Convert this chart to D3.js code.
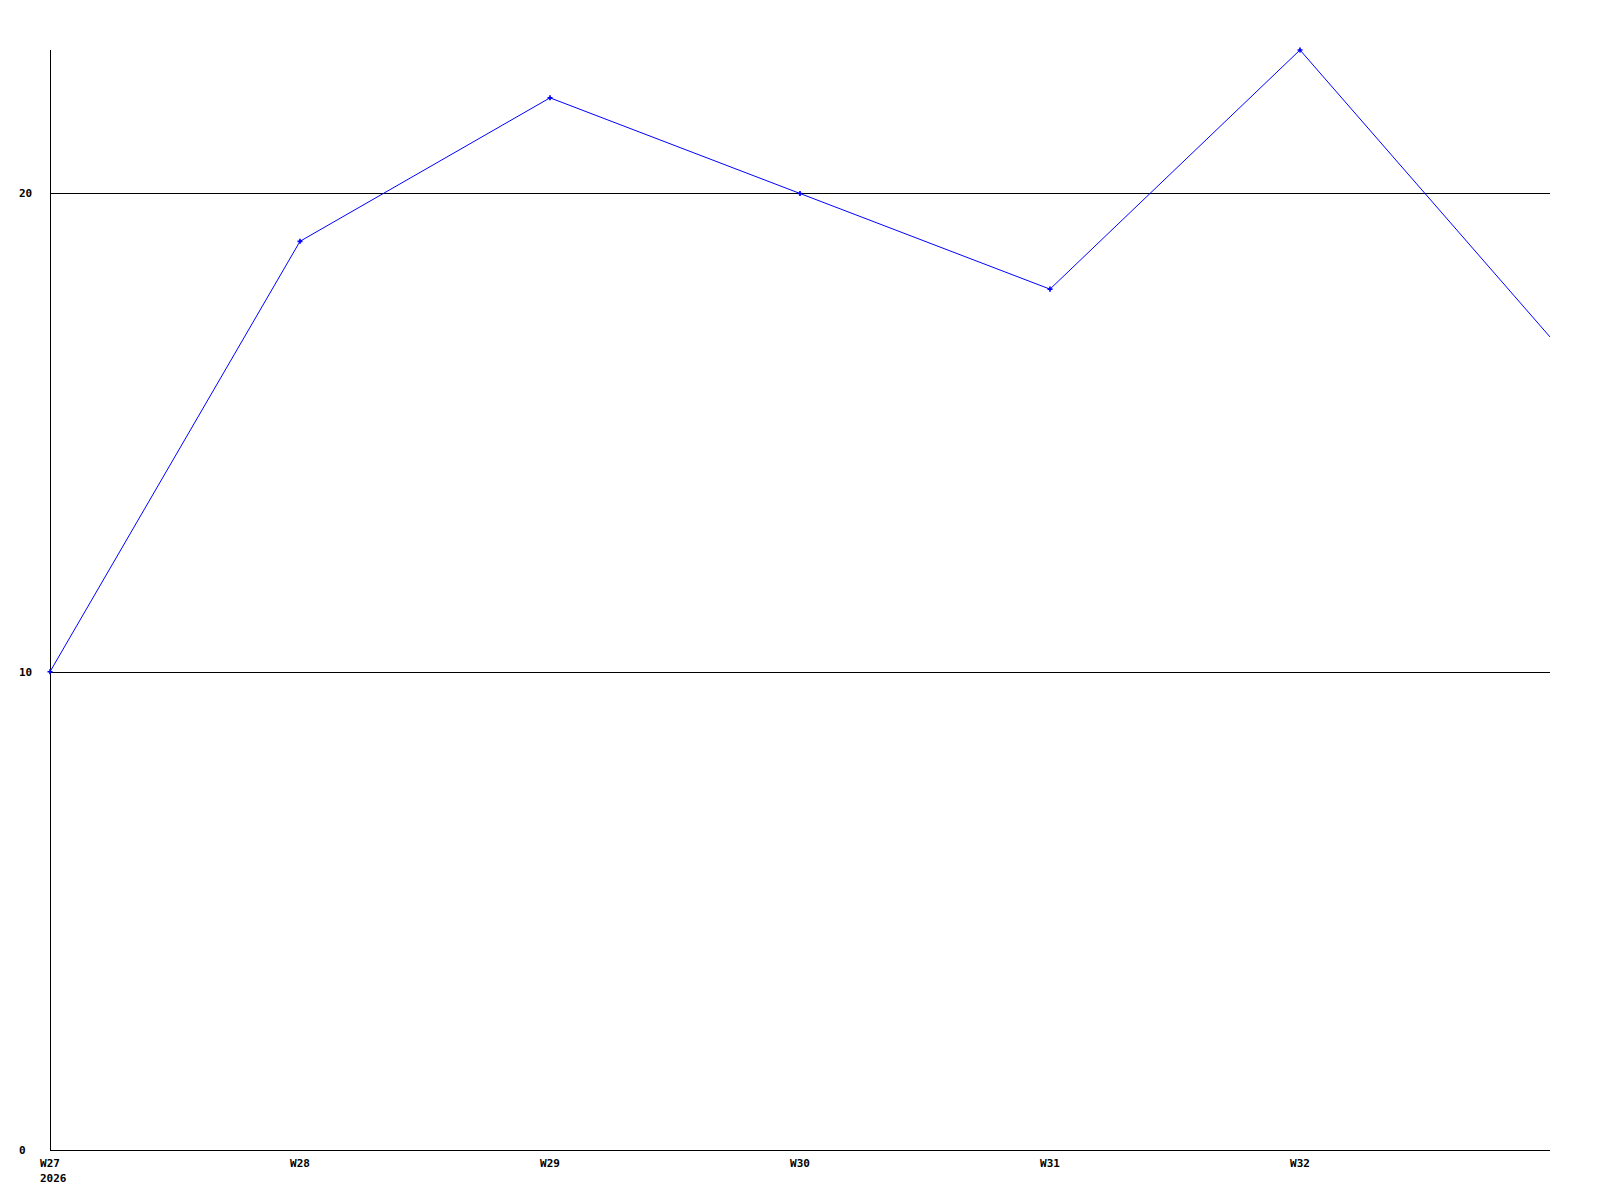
<!DOCTYPE html>
<html>
<head>
<meta charset="utf-8">
<script src="https://cdn.jsdelivr.net/npm/d3@7"></script>
<style>
  html, body { margin: 0; padding: 0; background: #fff; }
  text { font-family: "DejaVu Sans Mono", "Liberation Mono", monospace; font-weight: bold; font-size: 11px; fill: #000; }
</style>
</head>
<body>
<svg id="chart" width="1600" height="1200"></svg>
<script>
const weeks = ["W27", "W28", "W29", "W30", "W31", "W32", "W33"];
const values = [10, 19, 22, 20, 18, 23, 17];
const tickWeeks = ["W27", "W28", "W29", "W30", "W31", "W32"];
const yearLabel = "2026";
const yTicks = [0, 10, 20];
const gridValues = [10, 20];

const margin = { left: 50, right: 50, top: 50, bottom: 50 };
const W = 1600, H = 1200;
const svg = d3.select("#chart");

const x = d3.scalePoint().domain(weeks).range([margin.left, W - margin.right]);
const y = d3.scaleLinear().domain([0, 23]).range([H - margin.bottom, margin.top]);

svg.append("rect").attr("width", W).attr("height", H).attr("fill", "#fff");

// grid lines
svg.selectAll("line.grid").data(gridValues).enter().append("line")
  .attr("class", "grid")
  .attr("x1", x.range()[0]).attr("x2", x.range()[1])
  .attr("y1", d => Math.round(y(d)) + 0.5).attr("y2", d => Math.round(y(d)) + 0.5)
  .attr("stroke", "#000").attr("stroke-width", 1);

// axes lines
svg.append("line")
  .attr("x1", x.range()[0] + 0.5).attr("x2", x.range()[0] + 0.5)
  .attr("y1", y.range()[1]).attr("y2", y.range()[0])
  .attr("stroke", "#000");
svg.append("line")
  .attr("x1", x.range()[0]).attr("x2", x.range()[1])
  .attr("y1", y(0) + 0.5).attr("y2", y(0) + 0.5)
  .attr("stroke", "#000");

// y labels (left aligned)
svg.selectAll("text.ylab").data(yTicks).enter().append("text")
  .attr("class", "ylab")
  .attr("x", x.range()[0] - 31)
  .attr("y", d => y(d))
  .attr("dy", "0.35em")
  .attr("text-anchor", "start")
  .text(d => d);

// x labels
svg.selectAll("text.xlab").data(tickWeeks).enter().append("text")
  .attr("class", "xlab")
  .attr("x", d => x(d))
  .attr("y", y(0) + 17)
  .attr("text-anchor", "middle")
  .text(d => d);
svg.append("text")
  .attr("x", x(weeks[0]) - 10)
  .attr("y", y(0) + 32)
  .attr("text-anchor", "start")
  .text(yearLabel);

// line
svg.append("clipPath").attr("id", "plotclip").append("rect")
  .attr("x", x.range()[0]).attr("y", 0)
  .attr("width", x.range()[1] - x.range()[0]).attr("height", H);

const data = weeks.map((w, i) => ({ w, v: values[i] }));
svg.append("path")
  .datum(data)
  .attr("clip-path", "url(#plotclip)")
  .attr("fill", "none")
  .attr("stroke", "#0000ff")
  .attr("stroke-width", 1)
  .attr("d", d3.line().x(d => x(d.w)).y(d => y(d.v)));

// markers (not on the last, clipped point)
svg.selectAll("path.marker").data(data.slice(0, 6)).enter().append("path")
  .attr("class", "marker")
  .attr("transform", d => `translate(${x(d.w)},${y(d.v)})`)
  .attr("d", d3.symbol().type(d3.symbolCross).size(14))
  .attr("fill", "#0000ff");
</script>
</body>
</html>
